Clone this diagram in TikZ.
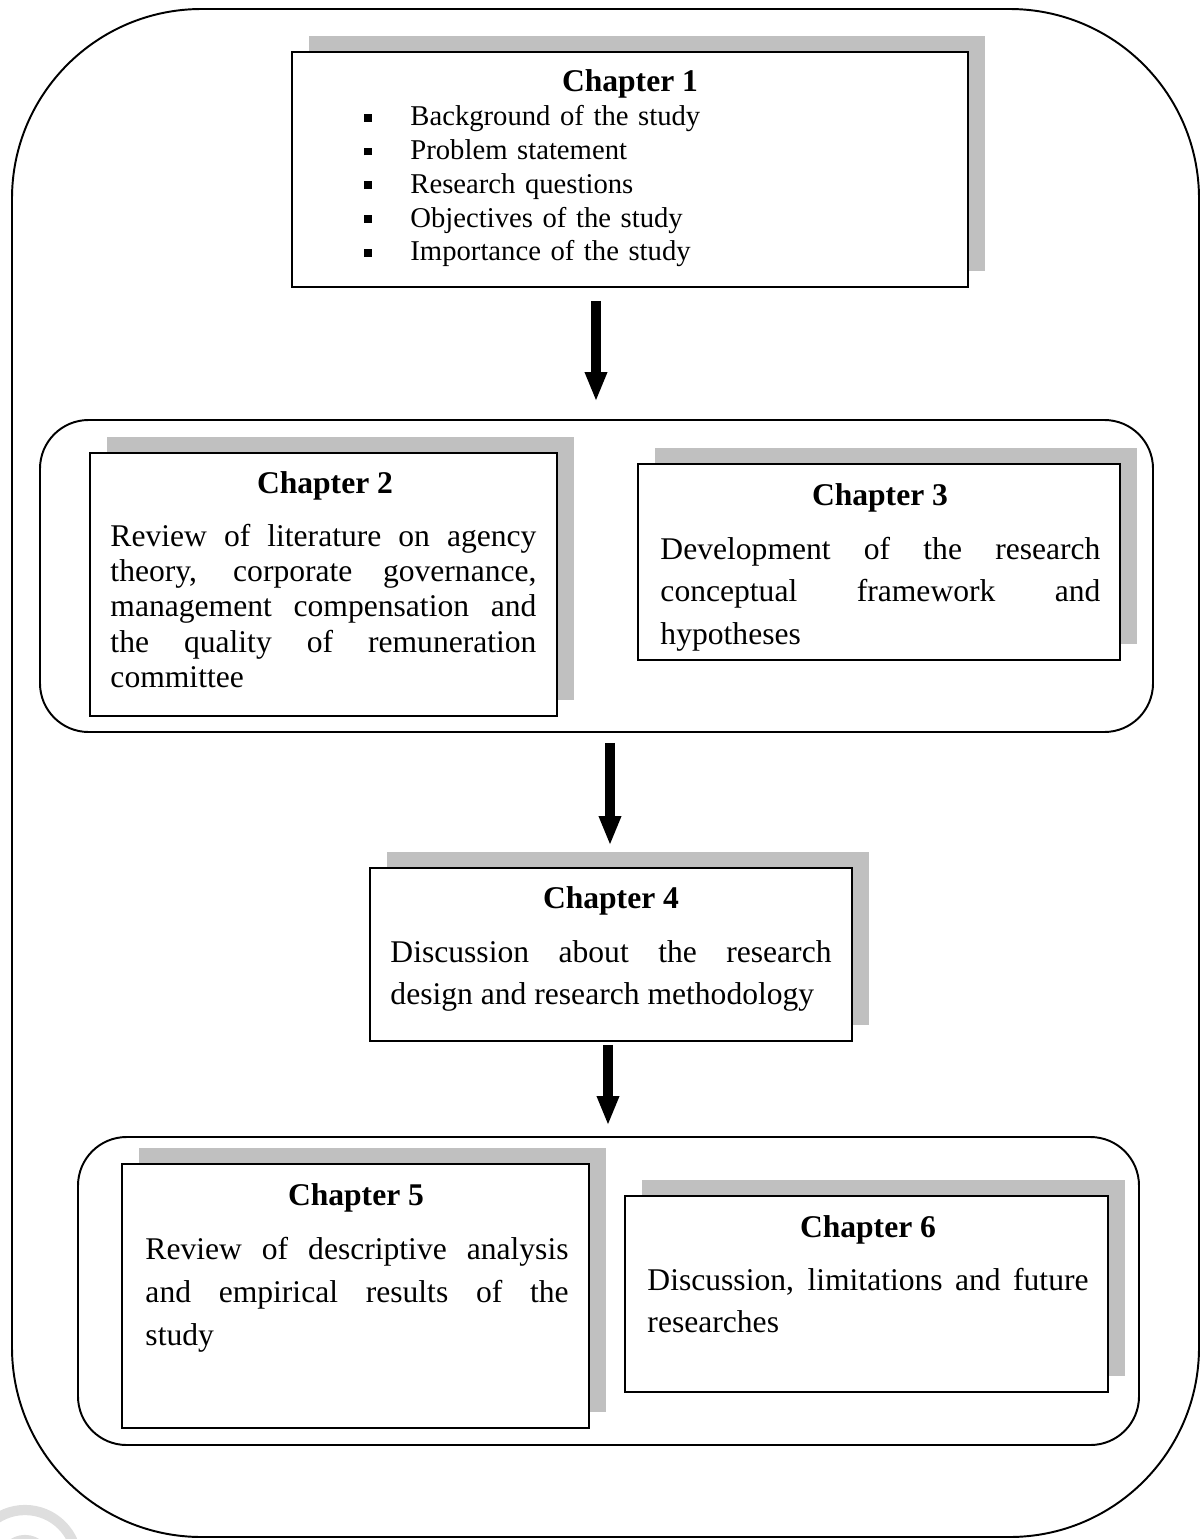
\documentclass[tikz,border=0pt]{standalone}
\usepackage{fontspec}
\setmainfont{Liberation Serif}
\usetikzlibrary{arrows.meta,shadows,calc}
\definecolor{shadowgray}{RGB}{192,192,192}
\newcommand{\pxu}{0.4115pt}
\newcommand{\bul}{\makebox[18.9pt][l]{\rule[1.75pt]{3.1pt}{3.2pt}}}
\hbadness=10000 \tolerance=10000 \hfuzz=3pt
\begin{document}
\begin{tikzpicture}[x=0.4115pt,y=-0.4115pt,
  boxsize/.style 2 args={minimum width=#1*\pxu, minimum height=#2*\pxu},
  chapbox/.style={rectangle, draw=black, line width=0.8pt, fill=white, inner sep=0pt,
     drop shadow={shadow xshift=7pt, shadow yshift=6.6pt, fill=shadowgray, opacity=1, draw=none}},
  frame/.style={rectangle, draw=black, line width=0.8pt, inner sep=0pt},
  head/.style={anchor=base, inner sep=0pt, font=\fontsize{13}{15}\selectfont\bfseries},
  body/.style={anchor=base west, inner sep=0pt, align=justify},
  bigarrow/.style={line width=4.5pt, -{Triangle[length=11.5pt,width=9.5pt,line width=0pt]}},
]
\useasboundingbox (0,0) rectangle (1200,1539);
% faint watermark
\begin{scope}
\clip (0,0) rectangle (1200,1539);
\draw[black!13, line width=4.2pt] (25,1562) circle[radius=52];
\draw[black!13, line width=4.2pt] (25,1562) circle[radius=22];
\end{scope}

% outer frame
\node[frame, boxsize={1187}{1528}, rounded corners=78pt] (outer) at (605.5,773) {};

% Chapter 1
\node[chapbox, boxsize={676}{235}] (c1) at (630,169.5) {};
\node[head] (h1) at (630,92) {Chapter 1};
\node[anchor=base west, inner sep=0pt, text width=250pt, align=left,
      font=\fontsize{11.8}{13.87}\selectfont] (l1) at (364,126)
  {\bul Background of the study\\
   \bul Problem statement\\
   \bul Research questions\\
   \bul Objectives of the study\\
   \bul Importance of the study};

% Group 2
\node[frame, boxsize={1113}{312}, rounded corners=20pt] (g2) at (596.5,576) {};
\node[chapbox, boxsize={467}{263}] (c2) at (323.5,584.5) {};
\node[head] (h2) at (325,493) {Chapter 2};
\node[body, text width=175.3pt, font=\fontsize{13}{14.6}\selectfont] (t2) at (110,546)
  {Review of literature on agency\linebreak theory, corporate governance,\linebreak management compensation and\linebreak the quality of remuneration\linebreak committee};

\node[chapbox, boxsize={482}{196}] (c3) at (879,562) {};
\node[head] (h3) at (880,505) {Chapter 3};
\node[body, text width=181.06pt, font=\fontsize{13}{17.5}\selectfont] (t3) at (660,559)
  {Development of the research\linebreak conceptual framework and\linebreak hypotheses};

% Chapter 4
\node[chapbox, boxsize={482}{173}] (c4) at (611,954.5) {};
\node[head] (h4) at (611,908) {Chapter 4};
\node[body, text width=181.5pt, font=\fontsize{13}{17.3}\selectfont] (t4) at (390,962)
  {Discussion about the research\linebreak design and research methodology};

% Group 3
\node[frame, boxsize={1061}{308}, rounded corners=20pt] (g3) at (608.5,1291) {};
\node[chapbox, boxsize={467}{264}] (c5) at (355.5,1296) {};
\node[head] (h5) at (356,1205) {Chapter 5};
\node[body, text width=174.1pt, font=\fontsize{13}{17.7}\selectfont] (t5) at (145,1259)
  {Review of descriptive analysis\linebreak and empirical results of the\linebreak study};

\node[chapbox, boxsize={483}{196}] (c6) at (866.5,1294) {};
\node[head] (h6) at (868,1237) {Chapter 6};
\node[body, text width=181.5pt, font=\fontsize{13}{17.3}\selectfont] (t6) at (647,1290)
  {Discussion, limitations and future\linebreak researches};

% arrows
\draw[bigarrow] ($(c1.south)+(-34,13)$) -- ($(g2.north)+(-0.5,-19)$);
\draw[bigarrow] ($(g2.south)+(13.5,10)$) -- ($(c4.north)+(-1,-23)$);
\draw[bigarrow] ($(c4.south)+(-3,3)$) -- ($(g3.north)+(-0.5,-12)$);
\end{tikzpicture}
\end{document}
